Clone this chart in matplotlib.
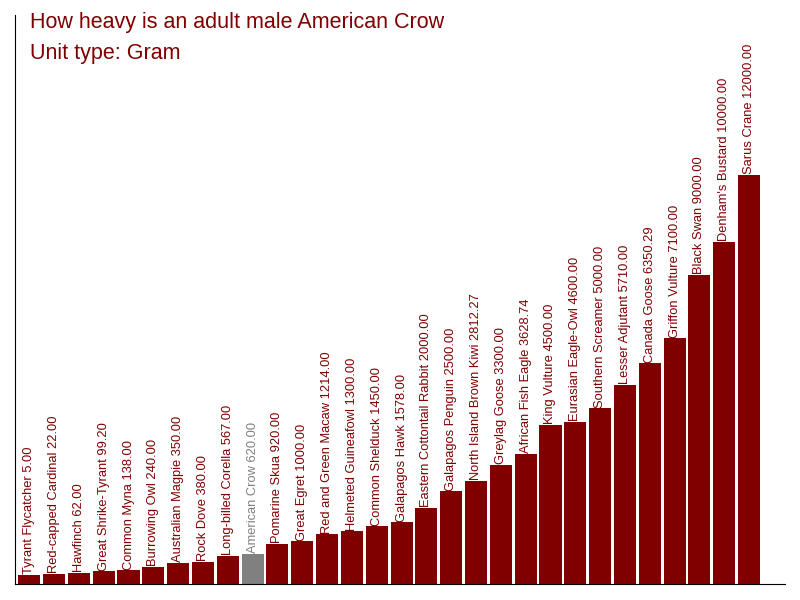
import matplotlib
matplotlib.use("Agg")
from matplotlib import pyplot as plt

plt.rcParams["font.family"] = ["Liberation Sans", "DejaVu Sans"]

birds = [
    "Tyrant Flycatcher", "Red-capped Cardinal", "Hawfinch", "Great Shrike-Tyrant",
    "Common Myna", "Burrowing Owl", "Australian Magpie", "Rock Dove",
    "Long-billed Corella", "American Crow", "Pomarine Skua", "Great Egret",
    "Red and Green Macaw", "Helmeted Guineafowl", "Common Shelduck",
    "Galapagos Hawk", "Eastern Cottontail Rabbit", "Galapagos Penguin",
    "North Island Brown Kiwi", "Greylag Goose", "African Fish Eagle",
    "King Vulture", "Eurasian Eagle-Owl", "Southern Screamer", "Lesser Adjutant",
    "Canada Goose", "Griffon Vulture", "Black Swan", "Denham's Bustard",
    "Sarus Crane",
]
grams = [
    5.00, 22.00, 62.00, 99.20, 138.00, 240.00, 350.00, 380.00, 567.00, 620.00,
    920.00, 1000.00, 1214.00, 1300.00, 1450.00, 1578.00, 2000.00, 2500.00,
    2812.27, 3300.00, 3628.74, 4500.00, 4600.00, 5000.00, 5710.00, 6350.29,
    7100.00, 9000.00, 10000.00, 12000.00,
]
highlight = "American Crow"

dark_red = "#800000"
grey = "#808080"
floor = -270

fig = plt.figure(figsize=(8, 6), dpi=100)
ax = fig.add_axes([0.019, 0.027, 0.962, 0.948])

colors = [grey if b == highlight else dark_red for b in birds]
x = range(len(birds))
heights = [g - floor for g in grams]
ax.bar(x, heights, bottom=floor, width=0.89, color=colors)

for i, (b, g) in enumerate(zip(birds, grams)):
    ax.text(i, g + 20, f"{b} {g:.2f}", rotation=90, ha="center", va="bottom",
            fontsize=9.3, color=colors[i])

ax.set_xlim(-0.565, 30.44)
ax.set_ylim(floor, 16800)
ax.set_xticks([])
ax.set_yticks([])
ax.spines["top"].set_visible(False)
ax.spines["right"].set_visible(False)

fig.text(0.0375, 0.962, "How heavy is an adult male American Crow", fontsize=15.5,
         color=dark_red, va="center")
fig.text(0.0375, 0.911, "Unit type: Gram", fontsize=15.5, color=dark_red, va="center")

fig.savefig("out.png")
